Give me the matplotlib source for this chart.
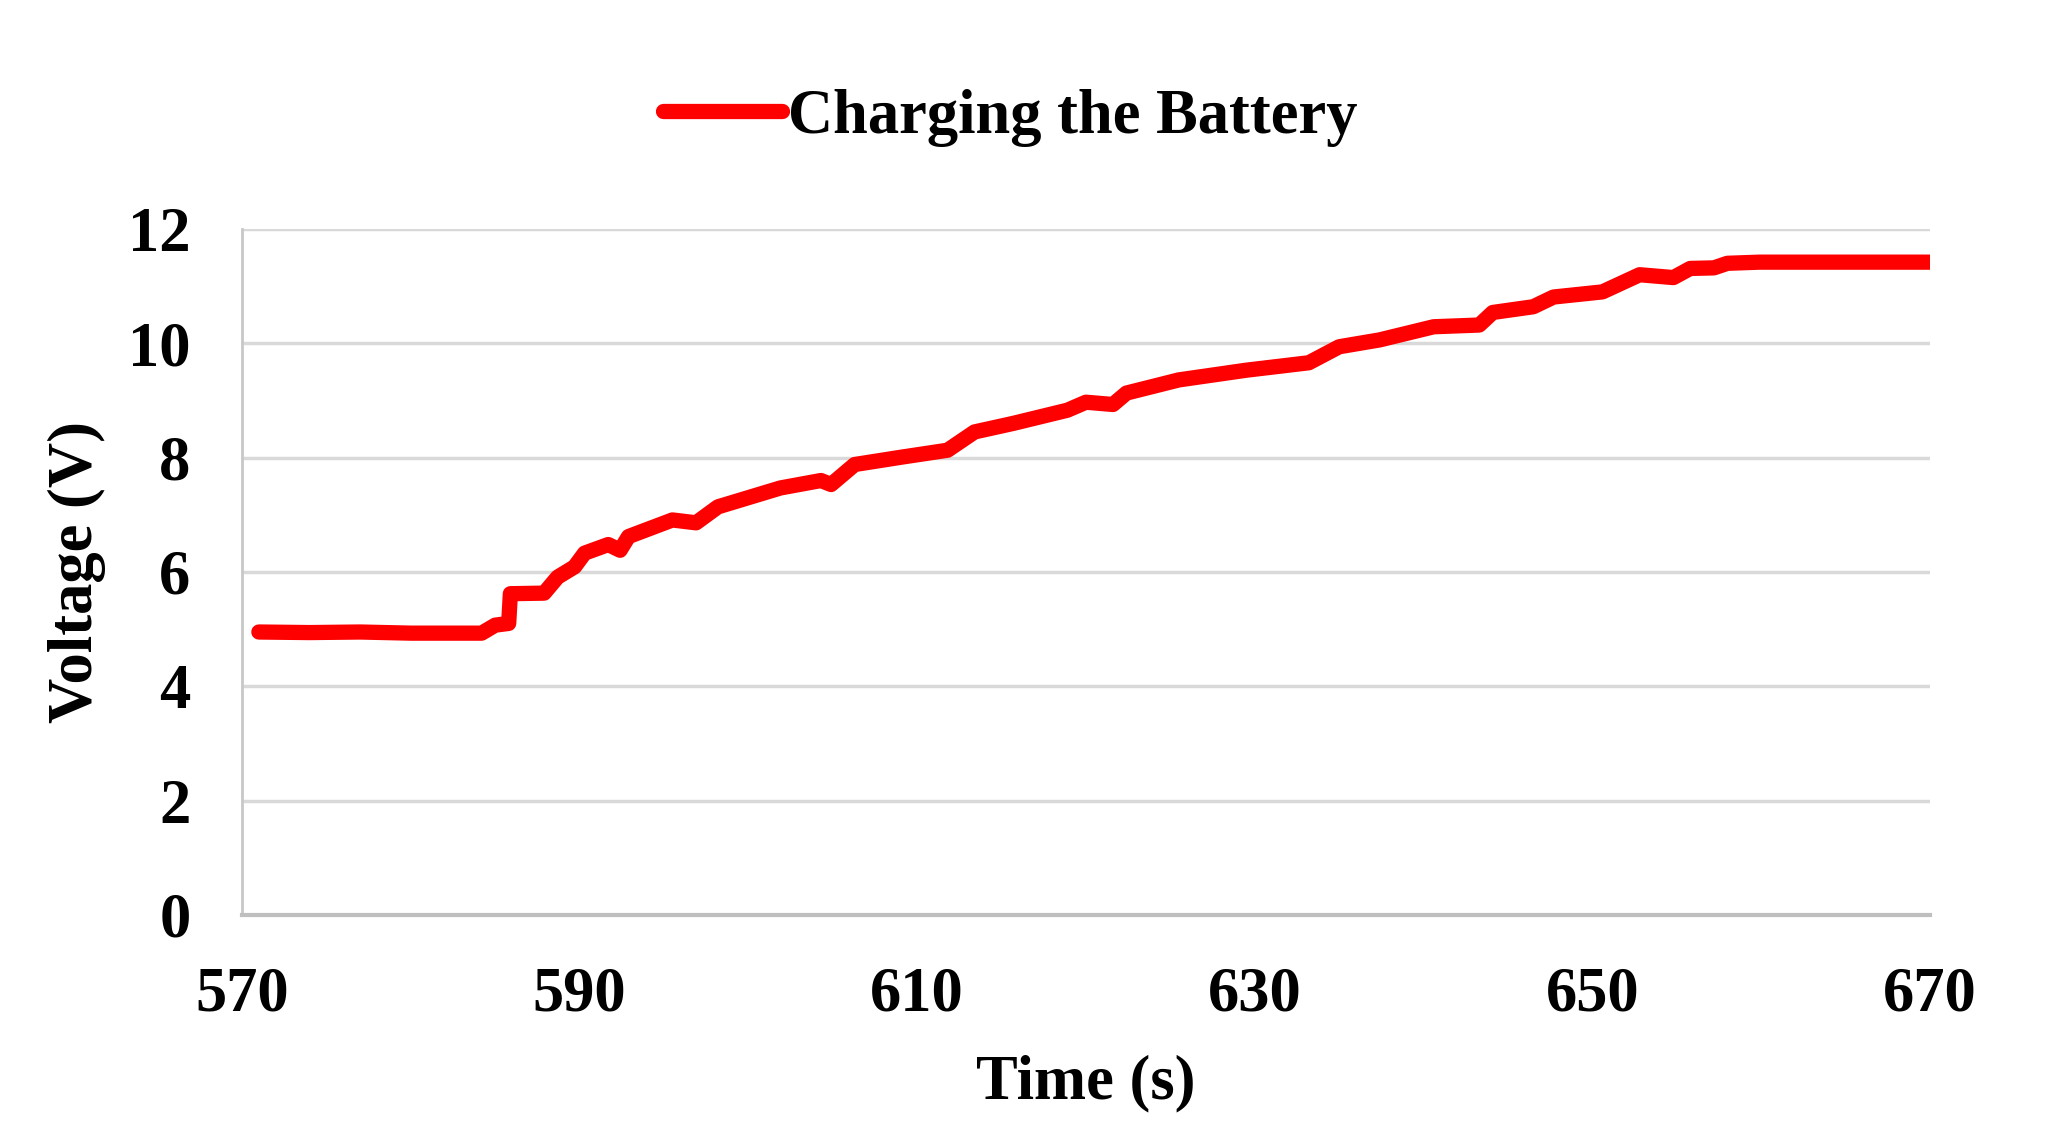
import matplotlib
matplotlib.use("Agg")
import matplotlib.pyplot as plt

# values
time_s = [571.0, 574.0, 577.0, 580.0, 584.2, 585.0, 585.8, 585.9, 587.9, 588.7,
          589.7, 590.3, 591.7, 592.4, 592.9, 595.5, 596.9, 598.2, 601.9, 604.3,
          604.9, 606.3, 609.1, 611.8, 613.4, 615.7, 618.9, 620.0, 621.6, 622.4,
          625.5, 629.5, 633.2, 635.0, 637.4, 640.6, 643.3, 644.1, 646.5, 647.7,
          650.6, 652.8, 654.8, 655.8, 657.2, 658.0, 659.9, 670.0]
voltage = [4.95, 4.94, 4.95, 4.93, 4.93, 5.07, 5.10, 5.62, 5.63, 5.91,
           6.09, 6.33, 6.48, 6.38, 6.62, 6.91, 6.86, 7.14, 7.47, 7.60,
           7.53, 7.88, 8.01, 8.13, 8.45, 8.60, 8.83, 8.97, 8.93, 9.13,
           9.36, 9.53, 9.66, 9.94, 10.06, 10.29, 10.32, 10.54, 10.64, 10.81,
           10.90, 11.20, 11.15, 11.31, 11.32, 11.40, 11.42, 11.42]
x_ticks = [570, 590, 610, 630, 650, 670]
y_ticks = [0, 2, 4, 6, 8, 10, 12]

plt.rcParams["font.family"] = ["Liberation Serif", "DejaVu Serif"]
plt.rcParams["font.weight"] = "bold"

fig = plt.figure(figsize=(20.49, 11.41), dpi=100)
ax = fig.add_axes([0.1181, 0.1981, 0.8238, 0.6012])

ax.plot(time_s, voltage, color="#ff0000", linewidth=11,
        solid_capstyle="round", solid_joinstyle="round",
        label="Charging the Battery", zorder=3)

ax.set_xlim(570, 670)
ax.set_ylim(0, 12)
ax.set_xticks(x_ticks)
ax.set_yticks(y_ticks)
ax.tick_params(axis="both", length=0, labelsize=45)
ax.tick_params(axis="x", pad=37)
ax.tick_params(axis="y", pad=37)

ax.grid(axis="y", color="#d9d9d9", linewidth=2.5)
ax.set_axisbelow(True)
for side in ["top", "right"]:
    ax.spines[side].set_visible(False)
ax.spines["left"].set_color("#c8c8c8")
ax.spines["left"].set_linewidth(2)
ax.spines["bottom"].set_color("#bfbfbf")
ax.spines["bottom"].set_linewidth(3)

ax.set_xlabel("Time (s)", fontsize=45, fontweight="bold", labelpad=22)
ax.set_ylabel("Voltage (V)", fontsize=45, fontweight="bold", labelpad=16)

fig.legend(loc="center", bbox_to_anchor=(0.493, 0.897), frameon=False,
           handlelength=1.9, handletextpad=0.1,
           prop={"weight": "bold", "size": 45})

fig.savefig("out.png", dpi=100, facecolor="white")
